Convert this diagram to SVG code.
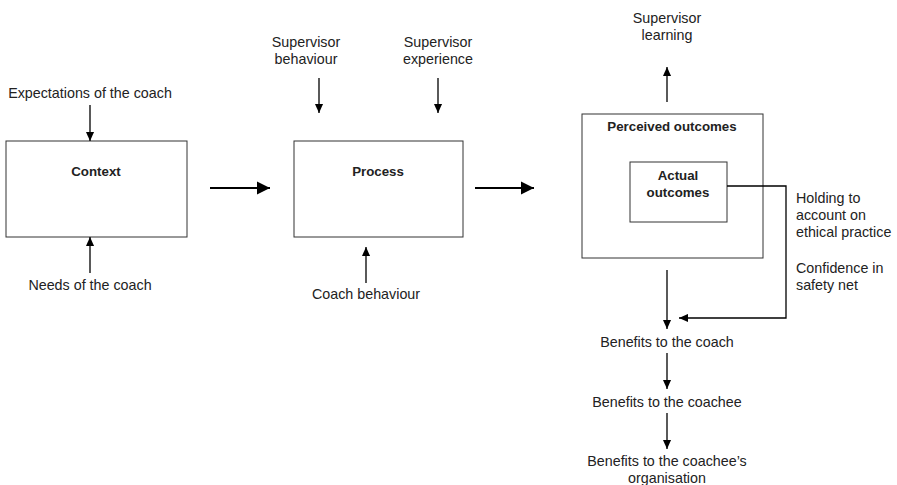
<svg xmlns="http://www.w3.org/2000/svg" width="897" height="485" viewBox="0 0 897 485">
<style>
text{font-family:"Liberation Sans",Arial,sans-serif;font-size:14.3px;fill:#222}
.b{font-weight:bold;font-size:13.3px}
.box{fill:none;stroke:#333;stroke-width:1}
.ln{stroke:#000;stroke-width:1.3;fill:none}
.th{stroke:#000;stroke-width:2.2;fill:none}
</style>
<defs>
<marker id="ah" viewBox="0 0 10 10" refX="10" refY="5" markerWidth="9" markerHeight="9" markerUnits="userSpaceOnUse" orient="auto"><path d="M0,0.5L10,5L0,9.5z" fill="#000"/></marker>
<marker id="ahb" viewBox="0 0 10 10" refX="10" refY="5" markerWidth="6" markerHeight="6" orient="auto"><path d="M0,0L10,5L0,10z" fill="#000"/></marker>
</defs>
<rect width="897" height="485" fill="#fff"/>
<g id="context"><rect class="box" x="6" y="141" width="181" height="96"/><text class="b" x="96" y="176" text-anchor="middle">Context</text></g>
<g id="process"><rect class="box" x="294" y="141" width="169" height="96"/><text class="b" x="378" y="176" text-anchor="middle">Process</text></g>
<g id="perceived"><rect class="box" x="582" y="114" width="181" height="144"/><text class="b" x="672" y="131" text-anchor="middle">Perceived outcomes</text></g>
<g id="actual"><rect class="box" x="630" y="162" width="97" height="60"/><text class="b" x="678" y="180" text-anchor="middle">Actual</text><text class="b" x="678" y="197" text-anchor="middle">outcomes</text></g>
<g id="expectations"><text x="90" y="98" text-anchor="middle">Expectations of the coach</text></g>
<g id="needs"><text x="90" y="290" text-anchor="middle">Needs of the coach</text></g>
<g id="sup-behaviour"><text x="306" y="47" text-anchor="middle">Supervisor</text><text x="306" y="64" text-anchor="middle">behaviour</text></g>
<g id="sup-experience"><text x="438" y="47" text-anchor="middle">Supervisor</text><text x="438" y="64" text-anchor="middle">experience</text></g>
<g id="coach-behaviour"><text x="366" y="299" text-anchor="middle">Coach behaviour</text></g>
<g id="sup-learning"><text x="667" y="23" text-anchor="middle">Supervisor</text><text x="667" y="40" text-anchor="middle">learning</text></g>
<g id="holding"><text x="796" y="203">Holding to</text><text x="796" y="220">account on</text><text x="796" y="237">ethical practice</text></g>
<g id="confidence"><text x="796" y="273">Confidence in</text><text x="796" y="290">safety net</text></g>
<g id="b-coach"><text x="667" y="347" text-anchor="middle">Benefits to the coach</text></g>
<g id="b-coachee"><text x="667" y="407" text-anchor="middle">Benefits to the coachee</text></g>
<g id="b-org"><text x="667" y="466" text-anchor="middle">Benefits to the coachee’s</text><text x="667" y="483" text-anchor="middle">organisation</text></g>
<g id="connectors">
<line class="ln" x1="90" y1="105" x2="90" y2="141" marker-end="url(#ah)"/>
<line class="ln" x1="90" y1="273" x2="90" y2="237" marker-end="url(#ah)"/>
<line class="th" x1="210" y1="188" x2="270" y2="188" marker-end="url(#ahb)"/>
<line class="ln" x1="319" y1="78" x2="319" y2="113" marker-end="url(#ah)"/>
<line class="ln" x1="438" y1="78" x2="438" y2="113" marker-end="url(#ah)"/>
<line class="ln" x1="366" y1="283" x2="366" y2="247" marker-end="url(#ah)"/>
<line class="th" x1="475" y1="188" x2="534" y2="188" marker-end="url(#ahb)"/>
<line class="ln" x1="667" y1="102" x2="667" y2="67" marker-end="url(#ah)"/>
<line class="ln" x1="667" y1="270" x2="667" y2="329" marker-end="url(#ah)"/>
<polyline class="ln" points="727,186 786,186 786,318 679,318" marker-end="url(#ah)"/>
<line class="ln" x1="667" y1="353" x2="667" y2="389" marker-end="url(#ah)"/>
<line class="ln" x1="667" y1="413" x2="667" y2="449" marker-end="url(#ah)"/>
</g>
</svg>
